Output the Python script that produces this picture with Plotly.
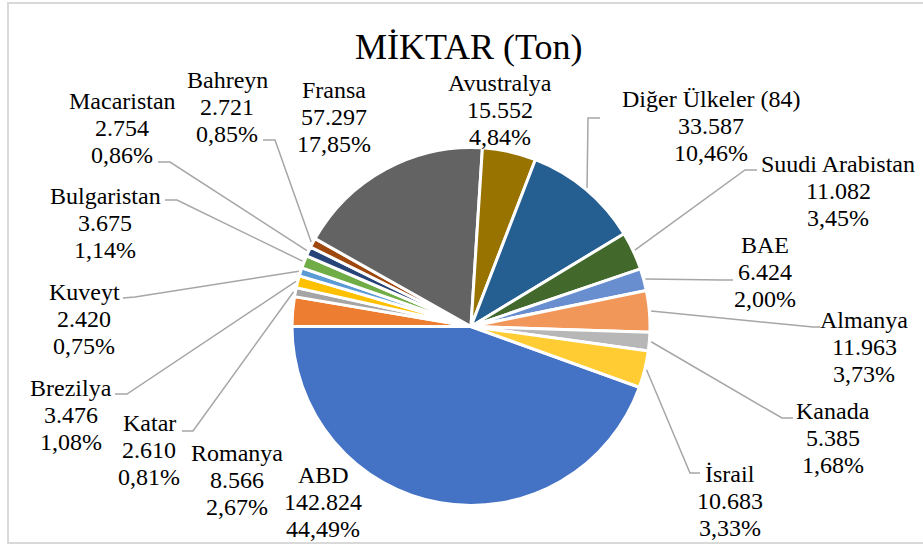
import plotly.graph_objects as go
import math

# ---- data (Excel series order) ----
countries = ["ABD", "Romanya", "Katar", "Brezilya", "Kuveyt", "Bulgaristan",
             "Macaristan", "Bahreyn", "Fransa", "Avustralya", "Diğer Ülkeler (84)",
             "Suudi Arabistan", "BAE", "Almanya", "Kanada", "İsrail"]
values = [142824, 8566, 2610, 3476, 2420, 3675, 2754, 2721, 57297, 15552,
          33587, 11082, 6424, 11963, 5385, 10683]
colors = ["#4472C4", "#ED7D31", "#A5A5A5", "#FFC000", "#5B9BD5", "#70AD47",
          "#264478", "#9E480E", "#636363", "#997300", "#255E91", "#43682B",
          "#698ED0", "#F1975A", "#B7B7B7", "#FFCD33"]
title_text = "MİKTAR (Ton)"

W, H = 923, 544
CX, CY, R = 471, 326.5, 179

# label layout (pixel positions of centre of the value line) and leader-line anchors
label_pos = {
    "ABD": (323, 502), "Romanya": (237, 480), "Katar": (149, 450),
    "Brezilya": (71, 415), "Kuveyt": (84, 319), "Bulgaristan": (105, 223),
    "Macaristan": (122, 128), "Bahreyn": (227, 107), "Fransa": (334, 117),
    "Avustralya": (500, 110), "Diğer Ülkeler (84)": (711, 126),
    "Suudi Arabistan": (838, 191), "BAE": (765, 272), "Almanya": (864, 347),
    "Kanada": (833, 438), "İsrail": (730, 501),
}
leader = {
    "Bahreyn": [(275, 140), (263, 140)],
    "Macaristan": [(170, 162), (158, 162)],
    "Bulgaristan": [(177, 200), (165, 200)],
    "Kuveyt": [(135, 297), (123, 298)],
    "Brezilya": [(127, 394), (115, 394)],
    "Katar": [(193, 431), (182, 431)],
    "Diğer Ülkeler (84)": [(588, 118), (600, 118)],
    "Suudi Arabistan": [(745, 170), (757, 170)],
    "BAE": [(722, 280), (733, 280)],
    "Almanya": [(813, 327), (820, 327)],
    "Kanada": [(782, 418), (793, 418)],
    "İsrail": [(690, 473), (700, 473)],
}

total = sum(values)
rotation = 270 - 360 * values[0] / total

def px(x):
    return x / W

def py(y):
    return 1 - y / H

fig = go.Figure(go.Pie(
    labels=countries, values=values, sort=False, direction="clockwise",
    rotation=rotation, textinfo="none", hoverinfo="label+value+percent",
    marker=dict(colors=colors, line=dict(color="white", width=3)),
    domain=dict(x=[px(CX - R), px(CX + R)], y=[py(CY + R), py(CY - R)]),
    showlegend=False,
))

annotations = []
shapes = []
FONT = "'Liberation Serif', 'Times New Roman', Tinos, 'DejaVu Serif', serif"
LS = 27
cum = 0.0
for name, v in zip(countries, values):
    mid = rotation + 360 * (cum + v / 2) / total
    cum += v
    pct = f"{100 * v / total:.2f}".replace(".", ",") + "%"
    val = f"{v:,}".replace(",", ".")
    lx, ly = label_pos[name]
    for i, t in enumerate([name, val, pct]):
        annotations.append(dict(
            x=px(lx), y=py(ly + (i - 1) * LS), xref="paper", yref="paper",
            text=t, showarrow=False, xanchor="center", yanchor="middle",
            font=dict(family=FONT, size=24, color="#000000")))
    if name in leader:
        a = math.radians(mid)
        tx = CX + R * 1.01 * math.sin(a)
        ty = CY - R * 1.01 * math.cos(a)
        pts = [(tx, ty)] + leader[name]
        path = "M " + " L ".join(f"{px(x)},{py(y)}" for x, y in pts)
        shapes.append(dict(type="path", path=path, xref="paper", yref="paper",
                           line=dict(color="#A6A6A6", width=1.5)))

annotations.append(dict(
    x=px(469.5), y=py(47), xref="paper", yref="paper", text=title_text,
    showarrow=False, xanchor="center", yanchor="middle",
    font=dict(family=FONT, size=36, color="#000000")))

shapes.append(dict(type="rect", xref="paper", yref="paper",
                   x0=px(8), x1=px(930), y0=py(543), y1=py(3),
                   line=dict(color="#D9D9D9", width=2)))

fig.update_layout(
    width=W, height=H, margin=dict(l=0, r=0, t=0, b=0),
    paper_bgcolor="white", plot_bgcolor="white",
    font=dict(family=FONT),
    annotations=annotations, shapes=shapes,
)
fig.write_html("out.html", config={"displayModeBar": False},
               post_script="document.body.style.margin='0';")
